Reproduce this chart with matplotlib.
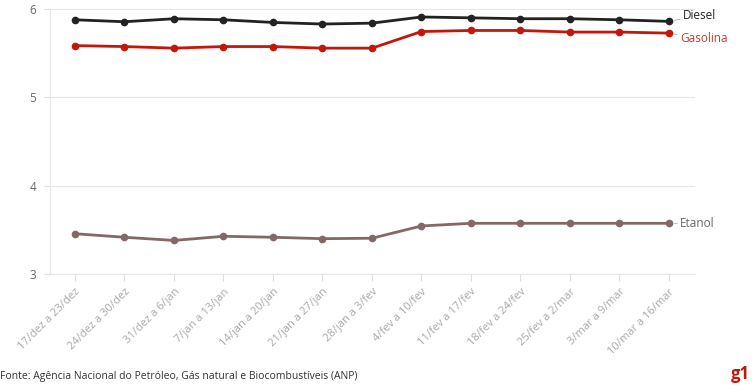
import matplotlib.pyplot as plt

semanas = ['17/dez a 23/dez', '24/dez a 30/dez', '31/dez a 6/jan', '7/jan a 13/jan',
           '14/jan a 20/jan', '21/jan a 27/jan', '28/jan a 3/fev', '4/fev a 10/fev',
           '11/fev a 17/fev', '18/fev a 24/fev', '25/fev a 2/mar', '3/mar a 9/mar',
           '10/mar a 16/mar']
diesel = [5.878, 5.856, 5.89, 5.878, 5.848, 5.83, 5.84, 5.91, 5.90, 5.89, 5.89, 5.878, 5.86]
gasolina = [5.586, 5.575, 5.557, 5.575, 5.575, 5.557, 5.557, 5.745, 5.757, 5.757, 5.739, 5.739, 5.727]
etanol = [3.456, 3.416, 3.38, 3.427, 3.416, 3.40, 3.405, 3.544, 3.574, 3.574, 3.574, 3.574, 3.574]

plt.rcParams['font.family'] = ['Open Sans', 'DejaVu Sans']

fig = plt.figure(figsize=(7.54, 3.92), dpi=100)
ax = fig.add_axes([0.0663, 0.301, 0.8554, 0.676])

x = range(len(semanas))
ax.plot(x, diesel, color='#222222', linewidth=2, marker='o', markersize=4.5, zorder=3)
ax.plot(x, gasolina, color='#c4170c', linewidth=2, marker='o', markersize=4.5, zorder=3)
ax.plot(x, etanol, color='#846868', linewidth=2, marker='o', markersize=4.5, zorder=3)

ax.annotate('Diesel', xy=(12, diesel[-1]), xytext=(10, 4), textcoords='offset points',
            va='center', fontsize=8.5, color='#222222',
            arrowprops=dict(arrowstyle='-', color='#aaaaaa', lw=0.6, shrinkA=0, shrinkB=4))
ax.annotate('Gasolina', xy=(12, gasolina[-1]), xytext=(8, -4), textcoords='offset points',
            va='center', fontsize=8.5, color='#c23b2e',
            arrowprops=dict(arrowstyle='-', color='#aaaaaa', lw=0.6, shrinkA=0, shrinkB=4))
ax.annotate('Etanol', xy=(12, etanol[-1]), xytext=(8, 0), textcoords='offset points',
            va='center', fontsize=8.5, color='#666666',
            arrowprops=dict(arrowstyle='-', color='#aaaaaa', lw=0.6, shrinkA=0, shrinkB=4))

ax.set_ylim(3, 6)
ax.set_xlim(-0.505, 12.525)
ax.set_yticks([3, 4, 5, 6])
ax.set_xticks(list(x))
ax.set_xticklabels(semanas, rotation=45, ha='right', rotation_mode='anchor',
                   fontsize=8, color='#a8a8a8')
ax.tick_params(axis='y', labelsize=8.5, labelcolor='#666666', length=4, color='#dddddd', pad=6)
ax.tick_params(axis='x', length=5, color='#dddddd', pad=4)
ax.grid(axis='y', color='#e6e6e6', linewidth=0.8)
ax.set_axisbelow(True)
for s in ['top', 'right']:
    ax.spines[s].set_visible(False)
ax.spines['left'].set_color('#e6e6e6')
ax.spines['bottom'].set_color('#e6e6e6')

fig.text(0.0, 0.04, 'Fonte: Agência Nacional do Petróleo, Gás natural e Biocombustíveis (ANP)',
         fontsize=7.5, color='#333333', va='center')
fig.text(0.995, 0.045, 'g1', fontsize=12, fontweight='bold', color='#c4170c',
         ha='right', va='center')

fig.savefig('out.png', dpi=100)
